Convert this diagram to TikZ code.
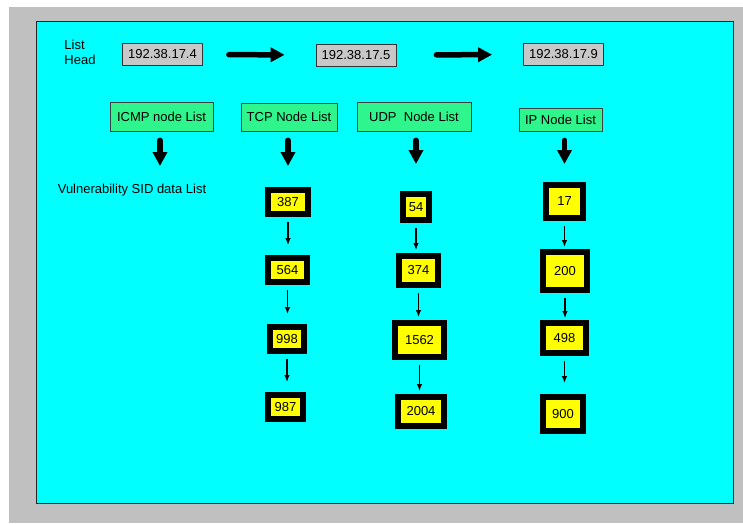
\documentclass[tikz,border=0pt]{standalone}
\usepackage{fontspec}
\setmainfont{Liberation Sans}
\usepackage{xcolor}
\usetikzlibrary{arrows.meta}

\definecolor{panelgray}{RGB}{192,192,192}
\definecolor{screencyan}{RGB}{0,255,255}
\definecolor{listgreen}{RGB}{46,245,140}
\definecolor{ipgray}{RGB}{200,200,200}
\definecolor{sidyellow}{RGB}{255,255,0}

\begin{document}
\begin{tikzpicture}[
  x=1pt, y=-1pt,
  txt/.style={font=\fontsize{13pt}{15pt}\selectfont, inner sep=0pt},
  ipbox/.style={txt, rectangle, draw=black!80, line width=0.8pt, fill=ipgray,
                minimum width=80pt, minimum height=22pt},
  listbox/.style={txt, rectangle, draw=black!75, line width=0.8pt, fill=listgreen},
  sidbox/.style={txt, rectangle, draw=black, line width=6pt, fill=sidyellow},
  bigarrow/.style={-{Triangle[length=14pt,width=14pt]}, line width=5.5pt, line cap=round},
  smallarrow/.style={-{Latex[length=7pt,width=5.5pt]}, line width=1.2pt,
                     shorten <=5pt, shorten >=#1}
]
\useasboundingbox (0,0) rectangle (743,523);
\fill[panelgray] (9,7) rectangle (743,523);
\draw[fill=screencyan, draw=black!85, line width=0.8pt] (36,21) rectangle (733,503);

% list head
\node[txt, align=left] (head) at (80,52) {List\\Head};
\node[ipbox] (ip1) at (162.5,54.5) {192.38.17.4};
\node[ipbox] (ip2) at (356,55)     {192.38.17.5};
\node[ipbox] (ip3) at (563.5,54.5) {192.38.17.9};

\draw[bigarrow, shorten <=26pt, shorten >=31pt] (ip1) -- (ip2);
\draw[bigarrow, shorten <=40pt, shorten >=31pt] (ip2) -- (ip3);

% protocol lists
\node[listbox, minimum width=103pt, minimum height=29pt] (icmp) at (161.5,116.5) {ICMP node List};
\node[listbox, minimum width=96pt,  minimum height=28pt] (tcp)  at (289,117)     {TCP Node List};
\node[listbox, minimum width=114pt, minimum height=29pt] (udp)  at (414,116.5)   {UDP\ \ Node List};
\node[listbox, minimum width=83pt,  minimum height=23pt] (ipn)  at (560.5,119.5) {IP Node List};

\node[txt] (vuln) at (132,190) {Vulnerability SID data List};
\coordinate (icmpend) at (160,166);

% SID data lists
\node[sidbox, minimum width=40pt, minimum height=24pt] (t387) at (288,202)   {387};
\node[sidbox, minimum width=39pt, minimum height=24pt] (t564) at (287.5,270) {564};
\node[sidbox, minimum width=34pt, minimum height=24pt] (t998) at (287,339)   {998};
\node[sidbox, minimum width=35pt, minimum height=24pt] (t987) at (285.5,407) {987};

\node[sidbox, minimum width=26pt, minimum height=26pt] (u54)   at (416,207)     {54};
\node[sidbox, minimum width=39pt, minimum height=29pt] (u374)  at (418.5,270.5) {374};
\node[sidbox, minimum width=49pt, minimum height=34pt] (u1562) at (419.5,340)   {1562};
\node[sidbox, minimum width=46pt, minimum height=29pt] (u2004) at (421,411.5)   {2004};

\node[sidbox, minimum width=37pt, minimum height=33pt] (i17)  at (564.5,201.5) {17};
\node[sidbox, minimum width=44pt, minimum height=38pt] (i200) at (565,271)     {200};
\node[sidbox, minimum width=43pt, minimum height=30pt] (i498) at (564.5,338)   {498};
\node[sidbox, minimum width=40pt, minimum height=34pt] (i900) at (563,414)     {900};

\draw[bigarrow, shorten <=9pt] (icmp.south -| icmpend) -- (icmpend);
\draw[bigarrow, shorten <=9pt, shorten >=21pt] (tcp.south -| t387.north) -- (t387.north);
\draw[bigarrow, shorten <=9pt, shorten >=27pt] (udp.south -| u54.north) -- (u54.north);
\draw[bigarrow, shorten <=9pt, shorten >=18pt] (ipn.south -| i17.north) -- (i17.north);

\draw[smallarrow=10pt] (t387.south) -- (t387.south |- t564.north);
\draw[smallarrow=10pt] (t564.south) -- (t564.south |- t998.north);
\draw[smallarrow=10pt] (t998.south) -- (t998.south |- t987.north);

\draw[smallarrow=3pt] (u54.south)   -- (u54.south |- u374.north);
\draw[smallarrow=3pt] (u374.south)  -- (u374.south |- u1562.north);
\draw[smallarrow=3pt] (u1562.south) -- (u1562.south |- u2004.north);

\draw[smallarrow=2pt]  (i17.south)  -- (i17.south |- i200.north);
\draw[smallarrow=2pt]  (i200.south) -- (i200.south |- i498.north);
\draw[smallarrow=11pt] (i498.south) -- (i498.south |- i900.north);
\end{tikzpicture}
\end{document}
